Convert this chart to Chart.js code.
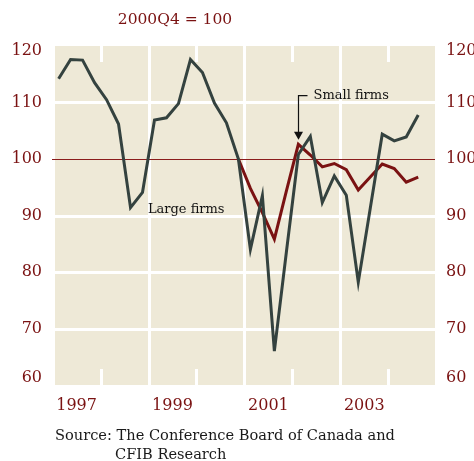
<!DOCTYPE html>
<html>
<head>
<meta charset="utf-8">
<script src="https://cdn.jsdelivr.net/npm/chart.js@4.4.1/dist/chart.umd.min.js"></script>
<style>
    html, body { margin: 0; padding: 0; background: #fff; }
    #wrap { position: relative; width: 474px; height: 461px; }
    #title {
        position: absolute; left: 0; top: 10px; width: 350px; text-align: center;
        font: 15.5px "DejaVu Serif", serif; color: #7a1212;
    }
    #source {
        position: absolute; left: 55px; top: 425px;
        font: 14.6px "DejaVu Serif", serif; color: #1a1a1a; line-height: 19px;
    }
</style>
</head>
<body>
<div id="wrap">
    <canvas id="chart" width="474" height="461"></canvas>
    <div id="title">2000Q4 = 100</div>
    <div id="source">Source: The Conference Board of Canada and<br><span style="padding-left:60px">CFIB Research</span></div>
</div>
<script>
// ========================================
// Business confidence, large vs small firms
// ========================================

// Quarters, 1997Q1 .. 2004Q3
const quarters = [
    '1997Q1', '1997Q2', '1997Q3', '1997Q4',
    '1998Q1', '1998Q2', '1998Q3', '1998Q4',
    '1999Q1', '1999Q2', '1999Q3', '1999Q4',
    '2000Q1', '2000Q2', '2000Q3', '2000Q4',
    '2001Q1', '2001Q2', '2001Q3', '2001Q4',
    '2002Q1', '2002Q2', '2002Q3', '2002Q4',
    '2003Q1', '2003Q2', '2003Q3', '2003Q4',
    '2004Q1', '2004Q2', '2004Q3'
];

const largeFirms = [
    114.2, 117.6, 117.5, 113.5,
    110.5, 106.2, 91.4, 94.1,
    106.9, 107.3, 109.8, 117.6,
    115.3, 109.9, 106.4, 100.0,
    84.0, 93.5, 66.0, 83.5,
    100.8, 104.0, 92.3, 97.0,
    93.6, 78.2, 91.3, 104.4,
    103.2, 103.9, 107.8
];

const smallFirms = [
    null, null, null, null,
    null, null, null, null,
    null, null, null, null,
    null, null, null, 100.0,
    94.8, 90.5, 85.8, 94.3,
    102.6, 100.7, 98.6, 99.2,
    98.1, 94.5, 96.8, 99.1,
    98.3, 95.9, 96.8
];

// Axis ticks
const yearLabels = ['1997', '1999', '2001', '2003'];
const gridYears = [1999, 2001, 2003];
const halfTickYears = [1998, 2000, 2002, 2004];
const yTicks = [120, 110, 100, 90, 80, 70, 60];
const whiteGrid = [110, 90, 80, 70];

const RED = '#7a1212';
const GREY = '#34423f';
const BEIGE = '#eee9d7';
const TICK_FONT = '16px "DejaVu Serif", serif';
const NOTE_FONT = '13px "DejaVu Serif", serif';

// quarter index of the start of a year (points sit mid-quarter)
function yearStart(yr) {
    return (yr - 1997) * 4 - 0.5;
}

const panelPlugin = {
    id: 'panel',
    beforeDatasetsDraw(chart) {
        const { ctx, chartArea: a, scales: { x, y } } = chart;
        ctx.save();
        ctx.fillStyle = BEIGE;
        ctx.fillRect(a.left, a.top, a.right - a.left, a.bottom - a.top);

        ctx.strokeStyle = '#ffffff';
        ctx.lineWidth = 3;
        whiteGrid.forEach(v => {
            const py = Math.round(y.getPixelForValue(v)) + 0.5;
            ctx.beginPath();
            ctx.moveTo(a.left, py);
            ctx.lineTo(a.right, py);
            ctx.stroke();
        });
        gridYears.forEach(yr => {
            const px = Math.round(x.getPixelForValue(yearStart(yr))) + 0.5;
            ctx.beginPath();
            ctx.moveTo(px, a.top);
            ctx.lineTo(px, a.bottom);
            ctx.stroke();
        });
        halfTickYears.forEach(yr => {
            const px = Math.round(x.getPixelForValue(yearStart(yr))) + 0.5;
            ctx.beginPath();
            ctx.moveTo(px, a.top);
            ctx.lineTo(px, a.top + 16);
            ctx.moveTo(px, a.bottom - 16);
            ctx.lineTo(px, a.bottom);
            ctx.stroke();
        });

        // 100 reference line
        const p100 = Math.round(y.getPixelForValue(100)) + 0.5;
        ctx.strokeStyle = '#8a1c1c';
        ctx.lineWidth = 1;
        ctx.beginPath();
        ctx.moveTo(a.left - 3, p100);
        ctx.lineTo(a.right, p100);
        ctx.stroke();
        ctx.restore();
    },
    afterDraw(chart) {
        const { ctx, chartArea: a, scales: { x, y } } = chart;
        ctx.save();

        // y tick labels on both sides
        ctx.font = TICK_FONT;
        ctx.fillStyle = RED;
        ctx.textBaseline = 'middle';
        yTicks.forEach(v => {
            let py = y.getPixelForValue(v);
            if (v === 120) py += 5;
            if (v === 60) py -= 7;
            ctx.textAlign = 'right';
            ctx.fillText(String(v), a.left - 13, py);
            ctx.textAlign = 'left';
            ctx.fillText(String(v), a.right + 11, py);
        });

        // year labels
        ctx.textAlign = 'center';
        yearLabels.forEach(lbl => {
            const px = x.getPixelForValue(yearStart(+lbl) + 2);
            ctx.fillText(lbl, px, a.bottom + 21);
        });

        // "Small firms" arrow
        const ax = Math.round(x.getPixelForValue(20)) + 0.5;
        const top = y.getPixelForValue(111.2);
        const tip = y.getPixelForValue(103.4);
        ctx.strokeStyle = '#111';
        ctx.fillStyle = '#111';
        ctx.lineWidth = 1.2;
        ctx.beginPath();
        ctx.moveTo(ax + 9, top);
        ctx.lineTo(ax, top);
        ctx.lineTo(ax, tip - 6);
        ctx.stroke();
        ctx.beginPath();
        ctx.moveTo(ax - 4.5, tip - 8);
        ctx.lineTo(ax + 4.5, tip - 8);
        ctx.lineTo(ax, tip);
        ctx.closePath();
        ctx.fill();

        ctx.font = NOTE_FONT;
        ctx.textAlign = 'left';
        ctx.fillText('Small firms', ax + 15, top);
        ctx.fillText('Large firms', x.getPixelForValue(7.45), y.getPixelForValue(91.1));
        ctx.restore();
    }
};

const ctx = document.getElementById('chart').getContext('2d');
new Chart(ctx, {
    type: 'line',
    data: {
        datasets: [{
            label: 'Large firms',
            data: largeFirms.map((v, i) => ({ x: i, y: v })),
            borderColor: GREY,
            borderWidth: 3,
            pointRadius: 0,
            tension: 0
        }, {
            label: 'Small firms',
            data: smallFirms.map((v, i) => ({ x: i, y: v })),
            borderColor: RED,
            borderWidth: 3,
            pointRadius: 0,
            tension: 0
        }]
    },
    options: {
        responsive: false,
        animation: false,
        layout: { padding: { left: 55, right: 39, top: 46, bottom: 76 } },
        plugins: {
            legend: { display: false },
            tooltip: { enabled: false }
        },
        scales: {
            x: { type: 'linear', min: -0.3, max: 31.4, display: false },
            y: { min: 60, max: 120, display: false }
        }
    },
    plugins: [panelPlugin]
});
</script>
</body>
</html>
